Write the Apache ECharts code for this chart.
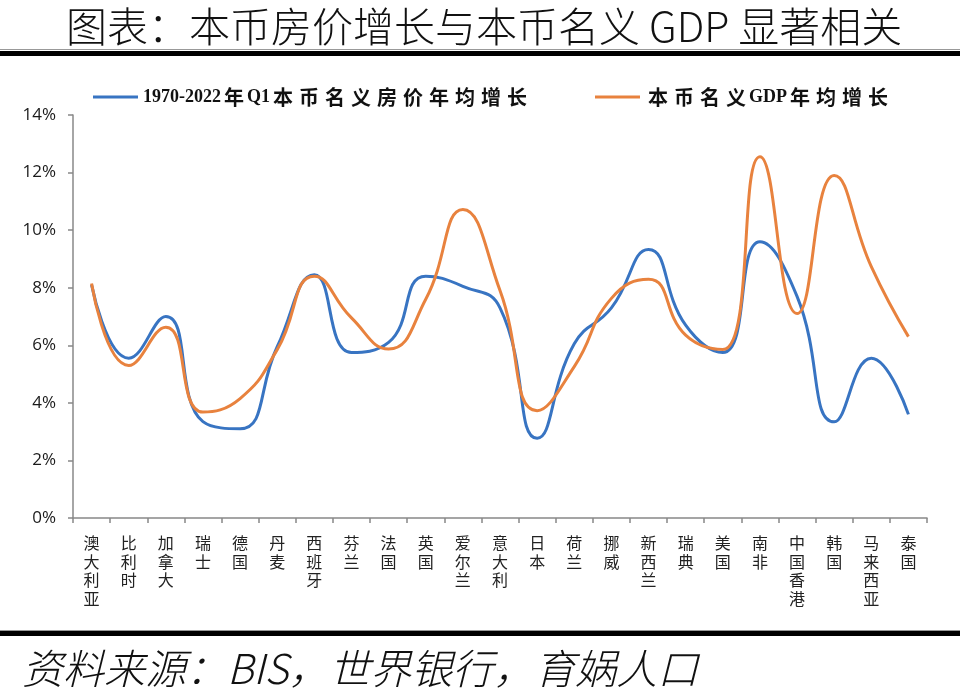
<!DOCTYPE html>
<html><head><meta charset="utf-8">
<script src="https://cdn.jsdelivr.net/npm/echarts@6/dist/echarts.min.js"></script>
<style>html,body{margin:0;padding:0;background:#fff}#c{width:960px;height:700px}</style>
</head><body><div id="c"></div>
<script>
const categories = ['澳大利亚','比利时','加拿大','瑞士','德国','丹麦','西班牙','芬兰','法国','英国','爱尔兰','意大利','日本','荷兰','挪威','新西兰','瑞典','美国','南非','中国香港','韩国','马来西亚','泰国'];
const housePrice = [8.1,5.55,7.0,3.35,3.1,5.95,8.45,5.75,6.1,8.4,8.05,7.3,2.77,6.05,7.3,9.33,6.7,5.75,9.6,7.7,3.34,5.55,3.6];
const gdp = [8.15,5.3,6.63,3.68,4.15,5.85,8.4,6.95,5.87,7.6,10.72,7.9,3.73,5.26,7.63,8.29,6.35,5.85,12.55,7.1,11.9,8.73,6.3];
const yTicks = [0,2,4,6,8,10,12,14];
const seriesNames = ['1970-2022年Q1本币名义房价年均增长','本币名义GDP年均增长'];
const titleText = '图表：本币房价增长与本币名义 GDP 显著相关';
const sourceText = '资料来源：BIS，世界银行，育娲人口';

const chart = echarts.init(document.getElementById('c'));
chart.setOption({
  animation:false,
  backgroundColor:'#fff',
  graphic:[
    {type:'text',left:66,top:6,style:{text:titleText,font:'300 41px "Noto Sans CJK SC"',fill:'#111'}},
    {type:'rect',shape:{x:0,y:49,width:960,height:1},style:{fill:'#999'}},
    {type:'rect',shape:{x:0,y:51,width:960,height:5},style:{fill:'#000'}},
    {type:'rect',shape:{x:0,y:630,width:960,height:1},style:{fill:'#999'}},
    {type:'rect',shape:{x:0,y:631,width:960,height:5},style:{fill:'#000'}},
    {type:'text',left:22,top:648,style:{text:sourceText,font:'italic 300 41px "Noto Sans CJK SC"',fill:'#111'}}
  ],
  legend:{
    top:82,left:88,itemGap:68,itemWidth:45,itemHeight:3,
    icon:'rect',
    formatter:name=>name.replace(/([\u4e00-\u9fff])/g,'{c|$1}'),
    textStyle:{fontFamily:'"Liberation Serif"',fontWeight:'bold',fontSize:18,color:'#111',
      rich:{c:{fontFamily:'"Noto Sans CJK SC"',fontWeight:'bold',fontSize:20,width:26,align:'center',color:'#111'}}},
    data:seriesNames
  },
  grid:{left:73,right:33,top:115,bottom:182,containLabel:false},
  xAxis:{
    type:'category',data:categories,boundaryGap:true,
    axisLine:{lineStyle:{color:'#888',width:1.5}},
    axisTick:{show:true,length:5,lineStyle:{color:'#888',width:1.5}},
    axisLabel:{interval:0,margin:16,fontFamily:'"Noto Sans CJK SC"',fontSize:16,color:'#222',lineHeight:18.5,
      formatter:v=>v.split('').join('\n'),verticalAlign:'top'}
  },
  yAxis:{
    type:'value',min:0,max:14,interval:2,
    axisLine:{show:true,lineStyle:{color:'#888',width:1.5}},
    axisTick:{show:true,length:5,lineStyle:{color:'#888',width:1.5}},
    splitLine:{show:false},
    axisLabel:{formatter:'{value}%',fontFamily:'"Open Sans"',fontSize:17,color:'#1a1a1a',margin:17}
  },
  series:[
    {name:seriesNames[0],type:'line',data:housePrice,smooth:0.5,symbol:'none',lineStyle:{color:'#3874C2',width:3},itemStyle:{color:'#3874C2'}},
    {name:seriesNames[1],type:'line',data:gdp,smooth:0.5,symbol:'none',lineStyle:{color:'#E8823E',width:3},itemStyle:{color:'#E8823E'}}
  ]
});
</script></body></html>
